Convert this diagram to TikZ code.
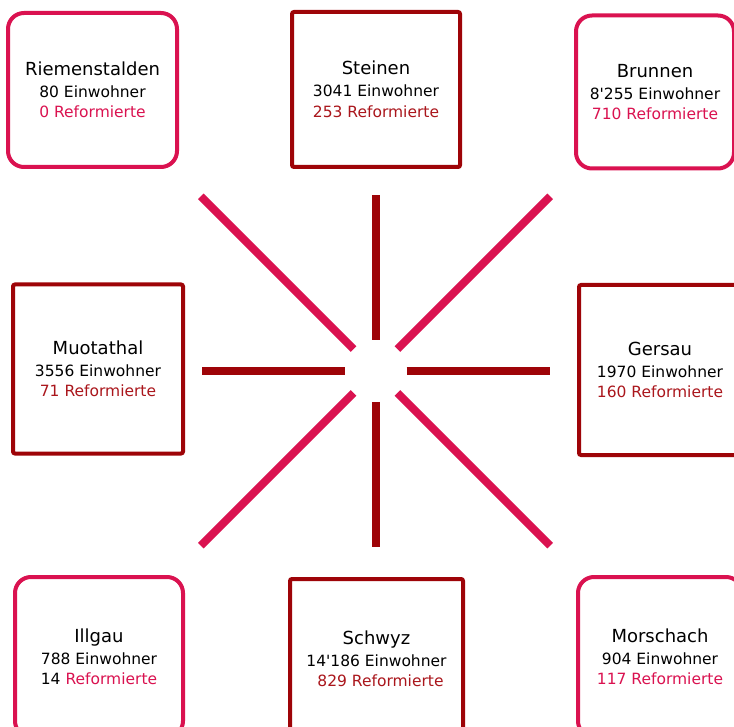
\documentclass[tikz,border=0pt]{standalone}
\usepackage{fontspec}
\setmainfont{DejaVu Sans}
\usetikzlibrary{calc,positioning}
\definecolor{rosa}{RGB}{218,18,80}
\definecolor{weinrot}{RGB}{158,4,8}
\definecolor{rottext}{RGB}{170,22,28}
\tikzset{
  ort/.style={draw,line width=4pt,align=center,inner sep=0pt,fill=white,
    font=\fontsize{15.5}{20.5}\selectfont},
  rund/.style={ort,draw=rosa,rounded corners=16pt},
  eckig/.style={ort,draw=weinrot,rounded corners=2pt},
  speiche/.style={line width=8pt},
}
\newcommand{\gemeinde}[1]{{\fontsize{18}{21}\selectfont #1}\\[1.5pt]}

\begin{document}
\begin{tikzpicture}[x=1pt,y=-1pt]
\useasboundingbox (0,0) rectangle (734,727);
\clip (0,0) rectangle (734,727);
\node[rund,minimum width=169pt,minimum height=154pt] (riem) at (92.5,90)
  {\gemeinde{Riemenstalden}80 Einwohner\\\textcolor{rosa}{0 Reformierte}};
\node[eckig,minimum width=168pt,minimum height=155pt] (stei) at (376,89.5)
  {\gemeinde{Steinen}3041 Einwohner\\\textcolor{rottext}{253 Reformierte}};
\node[rund,minimum width=158pt,minimum height=153pt] (brun) at (655,92)
  {\gemeinde{Brunnen}8\textquotesingle 255 Einwohner\\\textcolor{rosa}{710 Reformierte}};
\node[eckig,minimum width=170pt,minimum height=169pt] (muot) at (98,369)
  {\gemeinde{Muotathal}3556 Einwohner\\\textcolor{rottext}{71 Reformierte}};
\node[eckig,minimum width=162pt,minimum height=170pt] (gers) at (660,370)
  {\gemeinde{Gersau}1970 Einwohner\\\textcolor{rottext}{160 Reformierte}};
\node[rund,minimum width=168pt,minimum height=160pt] (illg) at (99,657)
  {\gemeinde{Illgau}788 Einwohner\hspace*{6pt}\\14 \textcolor{rosa}{Reformierte}};
\node[eckig,minimum width=173pt,minimum height=160pt] (schw) at (376.5,659)
  {\gemeinde{Schwyz}14\textquotesingle 186 Einwohner\hspace*{8pt}\\\hspace*{8pt}\textcolor{rottext}{829 Reformierte}};
\node[rund,minimum width=164pt,minimum height=160pt] (mors) at (660,657)
  {\gemeinde{Morschach}904 Einwohner\\\textcolor{rosa}{117 Reformierte}};

\coordinate (mitte) at (375.5,371);
\foreach \w/\r/\f in {0/174/weinrot,90/176/weinrot,180/174/weinrot,270/176/weinrot,
  45/247/rosa,135/247/rosa,225/247/rosa,315/247/rosa} {
  \path (mitte) ++(\w:31) coordinate (i\w) (mitte) ++(\w:\r) coordinate (a\w);
  \draw[speiche,draw=\f] (i\w) -- (a\w);
}
\end{tikzpicture}
\end{document}
